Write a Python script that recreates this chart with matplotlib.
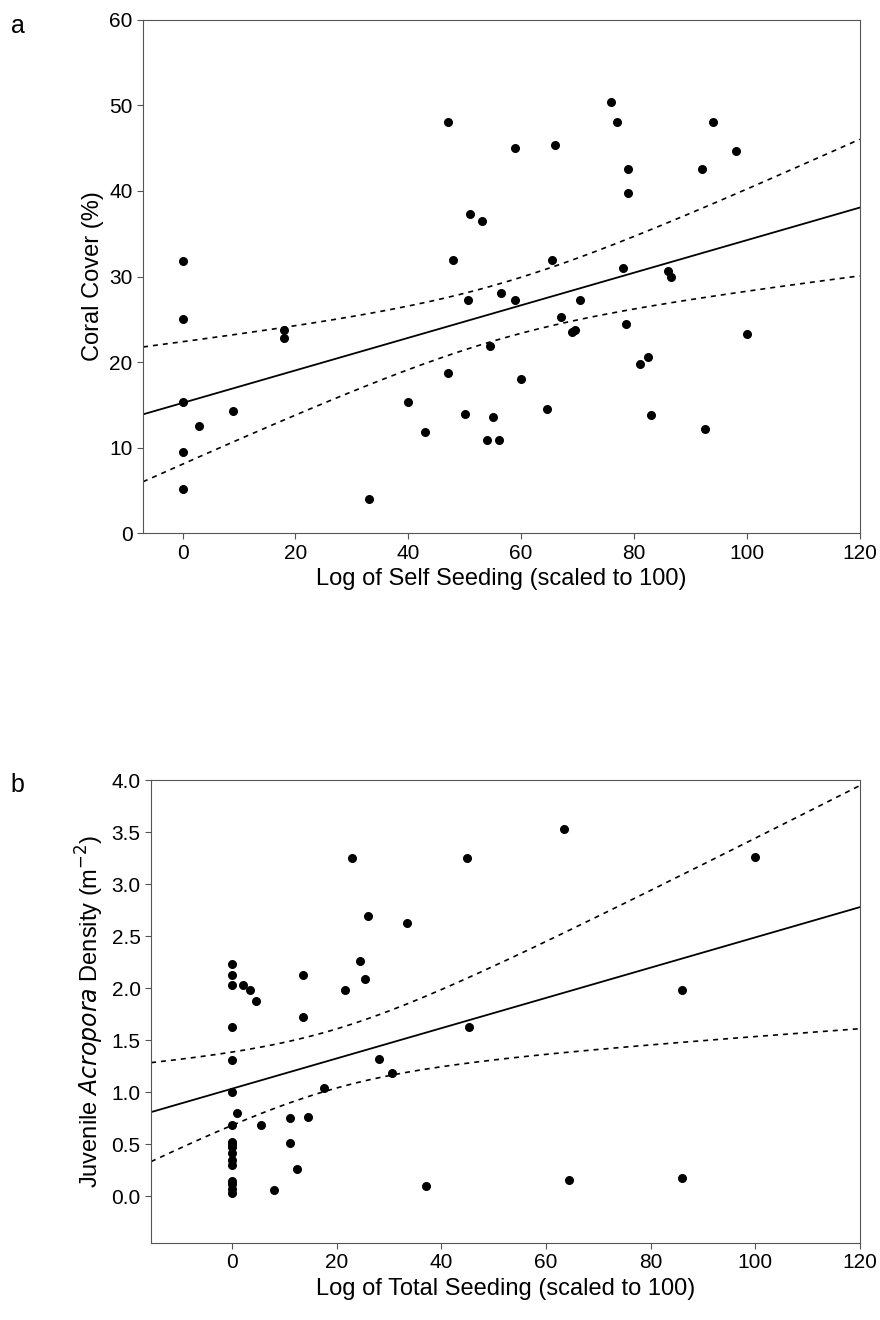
import numpy as np
import matplotlib
matplotlib.use("Agg")
import matplotlib.pyplot as plt

plt.rcParams['font.family'] = ['Liberation Sans', 'DejaVu Sans']

# panel a: self seeding vs coral cover
self_seed = [0, 0, 0, 0, 0, 3, 9, 18, 18, 33, 40, 43, 47, 47, 48, 50, 50.5, 51, 53, 54,
             54.5, 55, 56, 56.5, 59, 59, 60, 64.5, 66, 65.5, 67, 69, 69.5, 70.5, 76, 77,
             78, 78.5, 79, 79, 81, 82.5, 83, 86, 86.5, 92, 92.5, 94, 98, 100]
coral = [31.8, 25, 15.3, 9.5, 5.2, 12.5, 14.3, 23.7, 22.8, 4, 15.3, 11.8, 48, 18.7, 31.9,
         13.9, 27.3, 37.3, 36.5, 10.9, 21.9, 13.6, 10.9, 28.1, 45, 27.3, 18, 14.5, 45.4,
         31.9, 25.3, 23.5, 23.7, 27.3, 50.4, 48, 31, 24.5, 42.6, 39.8, 19.8, 20.6, 13.8,
         30.7, 29.9, 42.6, 12.2, 48, 44.7, 23.3]

# panel b: total seeding vs juvenile density
total_seed = [0]*17 + [1, 2, 3.5, 4.5, 5.5, 8, 11, 11, 12.5, 13.5, 13.5, 14.5, 17.5, 21.5,
              23, 24.5, 25.5, 26, 28, 30.5, 33.5, 37, 45, 45.2, 63.5, 64.5, 86, 86, 100]
juv = [2.23, 2.13, 2.03, 1.63, 1.31, 1.0, 0.68, 0.52, 0.5, 0.47, 0.42, 0.35, 0.3, 0.15,
       0.12, 0.07, 0.03, 0.8, 2.03, 1.98, 1.88, 0.68, 0.06, 0.51, 0.75, 0.26, 2.13, 1.72,
       0.76, 1.04, 1.98, 3.25, 2.26, 2.09, 2.69, 1.32, 1.18, 2.63, 0.1, 3.25, 1.63, 3.53,
       0.16, 1.98, 0.18, 3.26]


def fit_ci(ax, x, y, xlim):
    x = np.asarray(x, float); y = np.asarray(y, float)
    n = len(x)
    b, a = np.polyfit(x, y, 1)
    resid = y - (a + b * x)
    s = np.sqrt(np.sum(resid**2) / (n - 2))
    xs = np.linspace(xlim[0], xlim[1], 200)
    yh = a + b * xs
    se = s * np.sqrt(1/n + (xs - x.mean())**2 / np.sum((x - x.mean())**2))
    t = 2.01
    ax.plot(xs, yh, color="black", lw=1.3)
    ax.plot(xs, yh + t*se, "--", color="black", lw=1.2, dashes=(3, 3))
    ax.plot(xs, yh - t*se, "--", color="black", lw=1.2, dashes=(3, 3))


fig = plt.figure(figsize=(8.8, 13.2), dpi=100)

ax1 = fig.add_axes([0.1625, 0.596, 0.8145, 0.389])
ax1.scatter(self_seed, coral, s=30, color="black", zorder=3)
fit_ci(ax1, self_seed, coral, (-7, 120))
ax1.set_xlim(-7, 120)
ax1.set_ylim(0, 60)
ax1.set_xticks(range(0, 121, 20))
ax1.set_yticks(range(0, 61, 10))
ax1.set_xlabel("Log of Self Seeding (scaled to 100)", fontsize=17)
ax1.set_ylabel("Coral Cover (%)", fontsize=17)
fig.text(0.012, 0.975, "a", fontsize=18)

ax2 = fig.add_axes([0.1716, 0.0583, 0.8054, 0.3507])
ax2.scatter(total_seed, juv, s=30, color="black", zorder=3)
fit_ci(ax2, total_seed, juv, (-15.5, 120))
ax2.set_xlim(-15.5, 120)
ax2.set_ylim(-0.45, 4.0)
ax2.set_xticks(range(0, 121, 20))
ax2.set_yticks(np.arange(0, 4.01, 0.5))
ax2.set_yticklabels([f"{v:.1f}" for v in np.arange(0, 4.01, 0.5)])
ax2.set_xlabel("Log of Total Seeding (scaled to 100)", fontsize=17)
ax2.set_ylabel(r"Juvenile $\it{Acropora}$ Density (m$^{-2}$)", fontsize=17)
fig.text(0.012, 0.40, "b", fontsize=18)

for ax in (ax1, ax2):
    ax.tick_params(labelsize=15, direction="out", length=4, color="#555555")
    for sp in ax.spines.values():
        sp.set_color("#555555")

fig.savefig("out.png", dpi=100)
